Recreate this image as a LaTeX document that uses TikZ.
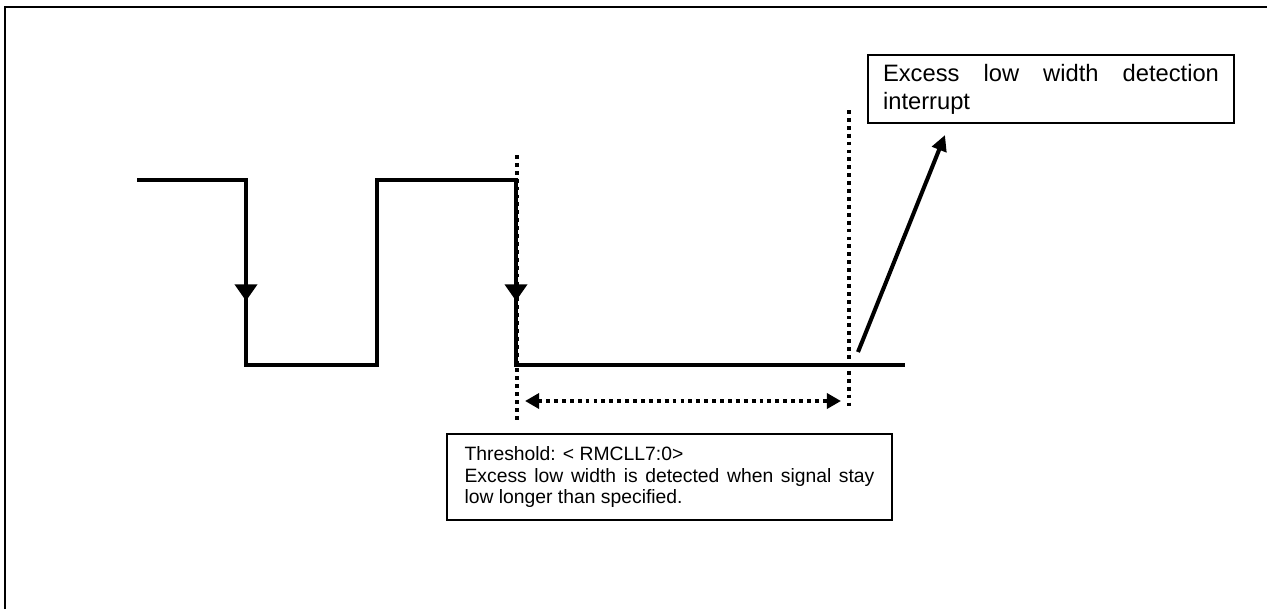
\documentclass[tikz,border=0pt]{standalone}
\usepackage{fontspec}
\setmainfont{Liberation Sans}
\usetikzlibrary{positioning,arrows.meta}

\tikzset{
    sigline/.style={line width=2.3pt, line join=miter},
    dotline/.style={line width=2.2pt, dash pattern=on 2.2pt off 2.3pt},
    txtbox/.style={draw, line width=0.8pt, align=justify, inner xsep=0pt, inner ysep=0pt}
}

\begin{document}
\begin{tikzpicture}[x=0.02cm, y=-0.02cm]
    \useasboundingbox (0,0) rectangle (1267,609);
    \draw[line width=1.1pt] (5,609) -- (5,7) -- (1267,7);

    % waveform
    \coordinate (hi0) at (137,180);
    \coordinate (fall1) at (246,180);
    \coordinate (lo1) at (246,365);
    \coordinate (rise1) at (377,365);
    \coordinate (hi1) at (377,180);
    \coordinate (fall2) at (516,180);
    \coordinate (lo2) at (516,365);
    \coordinate (loend) at (905,365);
    \draw[sigline] (hi0) -- (fall1) -- (lo1) -- (rise1) -- (hi1) -- (fall2) -- (lo2) -- (loend);

    \draw[line width=2.3pt, -{Triangle[length=9.5pt,width=12.5pt]}] (fall1) -- ++(0,121);
    \draw[line width=2.3pt, -{Triangle[length=9.5pt,width=12.5pt]}] (fall2) -- ++(0,121);

    % measuring window
    \coordinate (wstart) at (517,155);
    \coordinate (wstartb) at (517,420);
    \coordinate (wend) at (849,110);
    \coordinate (wendb) at (849,410);
    \draw[dotline] (wstart) -- (wstartb);
    \draw[dotline] (wend) -- (wendb);
    \coordinate (spanl) at (525,401);
    \coordinate (spanr) at (841,401);
    \draw[dotline, {Triangle[length=8pt,width=8.5pt]}-{Triangle[length=8pt,width=8.5pt]}] (spanl) -- (spanr);

    % interrupt
    \node[txtbox, minimum width=7.32cm, minimum height=1.36cm, text width=6.72cm,
          font=\fontsize{13.5}{15.9}\selectfont] (irqbox) at (1051,89)
          {Excess low width detection\linebreak interrupt};
    \coordinate (irqfrom) at (858,352);
    \coordinate (irqto) at (945,135);
    \draw[line width=2.3pt, -{Triangle[length=9pt,width=8.5pt]}] (irqfrom) -- (irqto);

    \node[txtbox, minimum width=8.9cm, minimum height=1.72cm, text width=8.2cm,
          font=\fontsize{11}{12.3}\selectfont] (thrbox) at (669.5,477)
          {Threshold: < RMCLL7:0>\\
           Excess low width is detected when signal stay\linebreak low longer than specified.};
\end{tikzpicture}
\end{document}
